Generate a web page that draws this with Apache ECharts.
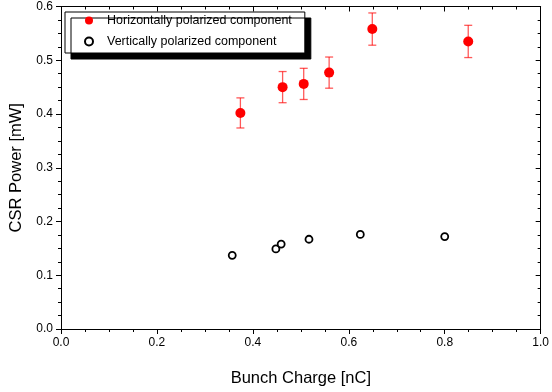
<!DOCTYPE html>
<html>
<head>
<meta charset="utf-8">
<script src="https://cdn.jsdelivr.net/npm/echarts@6/dist/echarts.min.js"></script>
<style>
  html, body { margin: 0; padding: 0; background: #fff; }
  #chart { width: 552px; height: 392px; }
</style>
</head>
<body>
<div id="chart"></div>
<script>
// horizontally polarized (red, filled) with error bars
const hCharge = [0.374, 0.462, 0.506, 0.559, 0.649, 0.849]
const hPower  = [0.402, 0.450, 0.456, 0.477, 0.558, 0.535]
const hErr    = [0.028, 0.029, 0.029, 0.029, 0.030, 0.030]

// vertically polarized (black, open)
const vCharge = [0.357, 0.448, 0.459, 0.517, 0.624, 0.800]
const vPower  = [0.137, 0.149, 0.158, 0.167, 0.176, 0.172]
const vErr    = [0.005, 0.005, 0.005, 0.005, 0.005, 0.005]

const FONT = 'Liberation Sans, Arial, sans-serif'
const RED = '#ff0000'

const chart = echarts.init(document.getElementById('chart'), null, { renderer: 'canvas' })

// error bar drawer: vertical line with caps
const errorBar = (color, capHalf) => (params, api) => {
  const x  = api.value(0)
  const lo = api.coord([x, api.value(1)])
  const hi = api.coord([x, api.value(2)])
  const style = { stroke: color, lineWidth: 1.3 }
  return {
    type: 'group',
    children: [
      { type: 'line', shape: { x1: lo[0], y1: lo[1], x2: hi[0], y2: hi[1] }, style },
      { type: 'line', shape: { x1: lo[0] - capHalf, y1: lo[1], x2: lo[0] + capHalf, y2: lo[1] }, style },
      { type: 'line', shape: { x1: hi[0] - capHalf, y1: hi[1], x2: hi[0] + capHalf, y2: hi[1] }, style },
    ],
  }
}

const axisCommon = {
  type: 'value',
  axisLine: { show: true, onZero: false, lineStyle: { color: '#000', width: 1 } },
  splitLine: { show: false },
}

const option = {
  animation: false,
  backgroundColor: '#fff',
  grid: { left: 58, right: 9, top: 6.5, bottom: 61.5 },
  legend: {
    left: 65,
    top: 12,
    orient: 'vertical',
    data: ['Horizontally polarized component', 'Vertically polarized component'],
    itemWidth: 8,
    itemHeight: 8,
    itemGap: 8,
    padding: [2, 13, 5, 19],
    borderColor: '#000',
    borderWidth: 1,
    backgroundColor: '#fff',
    shadowColor: '#000',
    shadowBlur: 0,
    shadowOffsetX: 6,
    shadowOffsetY: 6,
    textStyle: { fontFamily: FONT, fontSize: 12.5, color: '#000', padding: [0, 0, 0, 9] },
  },
  xAxis: [
    {
      ...axisCommon,
      min: 0, max: 1, interval: 0.2,
      name: 'Bunch Charge [nC]',
      nameLocation: 'middle',
      nameGap: 41,
      nameTextStyle: { fontFamily: FONT, fontSize: 16.5, color: '#000' },
      axisTick: { show: true, inside: false, length: 5, lineStyle: { color: '#000' } },
      minorTick: { show: true, splitNumber: 4, length: 3, lineStyle: { color: '#000' } },
      axisLabel: { fontFamily: FONT, fontSize: 12, color: '#000', margin: 8, formatter: v => v.toFixed(1) },
    },
    {
      ...axisCommon,
      position: 'top',
      min: 0, max: 1, interval: 0.2,
      axisTick: { show: true, inside: true, length: 5, lineStyle: { color: '#000' } },
      minorTick: { show: true, splitNumber: 4, length: 3, lineStyle: { color: '#000' } },
      axisLabel: { show: false },
    },
  ],
  yAxis: [
    {
      ...axisCommon,
      min: 0, max: 0.6, interval: 0.1,
      name: 'CSR Power [mW]',
      nameLocation: 'middle',
      nameGap: 36,
      nameTextStyle: { fontFamily: FONT, fontSize: 16.5, color: '#000' },
      axisTick: { show: true, inside: false, length: 5, lineStyle: { color: '#000' } },
      minorTick: { show: true, splitNumber: 4, length: 3, lineStyle: { color: '#000' } },
      axisLabel: { fontFamily: FONT, fontSize: 12, color: '#000', margin: 8, formatter: v => v.toFixed(1) },
    },
    {
      ...axisCommon,
      position: 'right',
      min: 0, max: 0.6, interval: 0.1,
      axisTick: { show: true, inside: true, length: 5, lineStyle: { color: '#000' } },
      minorTick: { show: true, splitNumber: 4, length: 3, lineStyle: { color: '#000' } },
      axisLabel: { show: false },
    },
  ],
  series: [
    {
      name: 'hErr',
      type: 'custom',
      renderItem: errorBar('rgba(255,0,0,0.65)', 4),
      data: hCharge.map((x, i) => [x, hPower[i] - hErr[i], hPower[i] + hErr[i]]),
      z: 2,
    },
    {
      name: 'vErr',
      type: 'custom',
      renderItem: errorBar('#000', 0),
      data: vCharge.map((x, i) => [x, vPower[i] - vErr[i], vPower[i] + vErr[i]]),
      z: 2,
    },
    {
      name: 'Horizontally polarized component',
      type: 'scatter',
      symbol: 'circle',
      symbolSize: 10,
      itemStyle: { color: RED, opacity: 1 },
      data: hCharge.map((x, i) => [x, hPower[i]]),
      z: 3,
    },
    {
      name: 'Vertically polarized component',
      type: 'scatter',
      symbol: 'circle',
      symbolSize: 7,
      itemStyle: { color: '#fff', borderColor: '#000', borderWidth: 1.8, opacity: 1 },
      data: vCharge.map((x, i) => [x, vPower[i]]),
      z: 3,
    },
  ],
}

chart.setOption(option)
</script>
</body>
</html>
